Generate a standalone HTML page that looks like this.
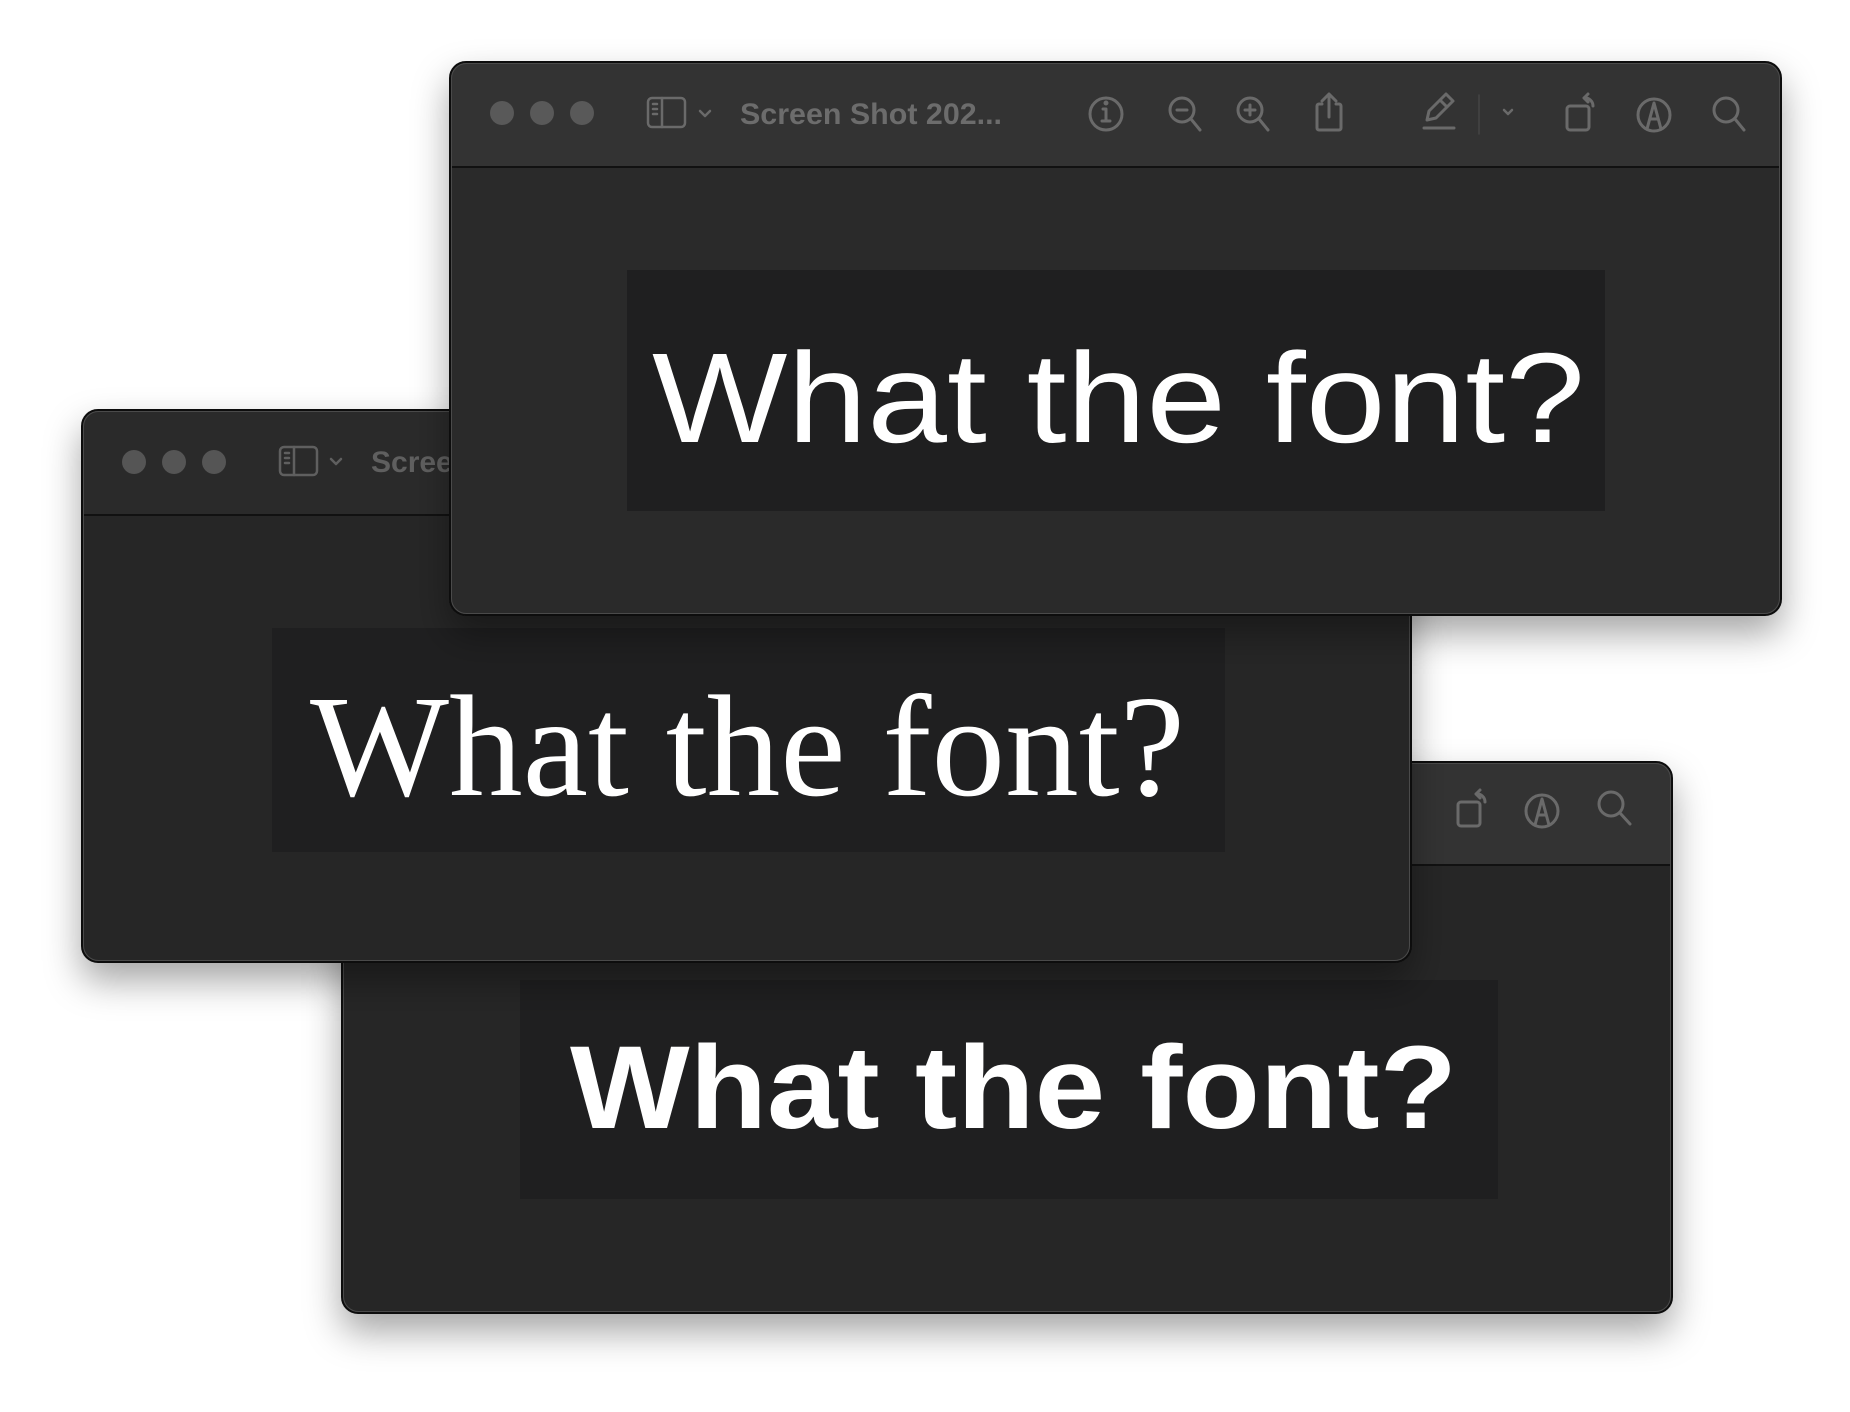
<!DOCTYPE html>
<html><head><meta charset="utf-8"><style>
html,body{margin:0;padding:0;background:#fff;}
svg{display:block;}
</style></head><body>
<svg width="1850" height="1412" viewBox="0 0 1850 1412" xmlns="http://www.w3.org/2000/svg">
<defs>
<filter id="sh" x="-10%" y="-10%" width="120%" height="130%">
<feDropShadow dx="0" dy="18" stdDeviation="18" flood-color="#000" flood-opacity="0.35"/>
</filter>
</defs>

<!-- Window C (bottom) -->
<g filter="url(#sh)">
<rect x="342" y="762" width="1330" height="551" rx="16" fill="#272727" stroke="#0c0c0c" stroke-width="2"/>
</g>
<path d="M343 864 V778 a15 15 0 0 1 15 -15 H1656 a15 15 0 0 1 15 15 V864 Z" fill="#333"/>
<line x1="343" y1="865" x2="1671" y2="865" stroke="#111" stroke-width="2"/>
<rect x="343.5" y="763.5" width="1327" height="548" rx="15" fill="none" stroke="#4a4a4a" stroke-width="1"/>
<rect x="520" y="980" width="978" height="219" fill="#1f1f20"/>
<text x="570" y="1128" font-family="Liberation Sans, sans-serif" font-weight="bold" font-size="118" fill="#fff" textLength="887" lengthAdjust="spacingAndGlyphs">What the font?</text>
<g stroke="#6a6a6a" stroke-width="3" fill="none" stroke-linecap="round" stroke-linejoin="round">
<rect x="1458" y="802" width="22" height="24" rx="3"/>
<path d="M1476 794 a8 8 0 0 1 9 8 M1476 794 l4 -4 M1476 794 l4 4"/>
<circle cx="1542" cy="811" r="16"/>
<path d="M1535 825 L1542 799 L1549 825 M1538 815 h8"/>
<circle cx="1611" cy="804" r="12"/>
<path d="M1620 813 L1630 824"/>
</g>

<!-- Window B (middle) -->
<g filter="url(#sh)">
<rect x="82" y="410" width="1329" height="552" rx="16" fill="#272727" stroke="#0c0c0c" stroke-width="2"/>
</g>
<path d="M83 514 V426 a15 15 0 0 1 15 -15 H1394 a15 15 0 0 1 15 15 V514 Z" fill="#2a2a2a"/>
<line x1="83" y1="515" x2="1409" y2="515" stroke="#111" stroke-width="2"/>
<rect x="83.5" y="411.5" width="1326" height="549" rx="15" fill="none" stroke="#4a4a4a" stroke-width="1"/>
<rect x="272" y="628" width="953" height="224" fill="#1f1f20"/>
<text x="310" y="795" font-family="Liberation Serif, serif" font-size="145" fill="#fff" textLength="875" lengthAdjust="spacingAndGlyphs">What the font?</text>
<circle cx="134" cy="462" r="12" fill="#555"/>
<circle cx="174" cy="462" r="12" fill="#555"/>
<circle cx="214" cy="462" r="12" fill="#555"/>
<g stroke="#5f5f5f" stroke-width="2.5" fill="none" stroke-linecap="round" stroke-linejoin="round">
<rect x="280" y="447" width="37" height="28" rx="4"/>
<line x1="294" y1="447" x2="294" y2="475"/>
<path d="M285 453 h4 M285 458 h4 M285 463 h4"/>
<path d="M331 459 l5 5 l5 -5"/>
</g>
<text x="371" y="472" font-family="Liberation Sans, sans-serif" font-weight="bold" font-size="30" fill="#5f5f5f">Screen Shot 202...</text>

<!-- Window A (top) -->
<g filter="url(#sh)">
<rect x="450" y="62" width="1331" height="553" rx="16" fill="#292929" stroke="#0c0c0c" stroke-width="2"/>
</g>
<path d="M451 166 V78 a15 15 0 0 1 15 -15 H1764 a15 15 0 0 1 15 15 V166 Z" fill="#333"/>
<line x1="451" y1="167" x2="1779" y2="167" stroke="#111" stroke-width="2"/>
<rect x="451.5" y="63.5" width="1328" height="550" rx="15" fill="none" stroke="#4a4a4a" stroke-width="1"/>
<rect x="627" y="270" width="978" height="241" fill="#1f1f20"/>
<text x="652" y="442" font-family="Liberation Sans, sans-serif" font-size="128" fill="#fff" textLength="933" lengthAdjust="spacingAndGlyphs">What the font?</text>
<circle cx="502" cy="113" r="12" fill="#595959"/>
<circle cx="542" cy="113" r="12" fill="#595959"/>
<circle cx="582" cy="113" r="12" fill="#595959"/>
<g stroke="#6a6a6a" stroke-width="2.5" fill="none" stroke-linecap="round" stroke-linejoin="round">
<rect x="648" y="98" width="37" height="29" rx="4"/>
<line x1="662" y1="98" x2="662" y2="127"/>
<path d="M653 104 h4 M653 109 h4 M653 114 h4"/>
<path d="M700 111 l5 5 l5 -5"/>
</g>
<text x="740" y="124" font-family="Liberation Sans, sans-serif" font-weight="bold" font-size="30" fill="#6c6c6c" textLength="262" lengthAdjust="spacingAndGlyphs">Screen Shot 202...</text>
<g stroke="#6a6a6a" stroke-width="3" fill="none" stroke-linecap="round" stroke-linejoin="round">
<circle cx="1106" cy="114" r="16"/>
<path d="M1106 109 v12 M1102 121 h8 M1103 109 h3"/>
<circle cx="1106" cy="103" r="1" fill="#6a6a6a"/>
<circle cx="1182" cy="110" r="12"/>
<path d="M1191 119 L1200 130 M1177 110 h10"/>
<circle cx="1250" cy="110" r="12"/>
<path d="M1259 119 L1268 130 M1245 110 h10 M1250 105 v10"/>
<path d="M1322 104 h-3 a2 2 0 0 0 -2 2 v22 a2 2 0 0 0 2 2 h20 a2 2 0 0 0 2 -2 v-22 a2 2 0 0 0 -2 -2 h-3"/>
<path d="M1329 117 V95 M1322 101 l7 -7 l7 7"/>
<path d="M1427 120 l2 -9 l17 -17 l7 7 l-17 17 z M1440 100 l7 7"/>
<line x1="1424" y1="128" x2="1454" y2="128"/>
<line x1="1479" y1="95" x2="1479" y2="134" stroke="#444" stroke-width="1.5"/>
<path d="M1504 110 l4 4 l4 -4" stroke-width="2.5"/>
<rect x="1567" y="106" width="22" height="24" rx="3"/>
<path d="M1584 98 a8 8 0 0 1 9 8 M1584 98 l4 -4 M1584 98 l4 4"/>
<circle cx="1654" cy="115" r="16"/>
<path d="M1647 129 L1654 103 L1661 129 M1650 119 h8"/>
<circle cx="1726" cy="110" r="12"/>
<path d="M1735 119 L1744 130"/>
</g>
</svg>
</body></html>
